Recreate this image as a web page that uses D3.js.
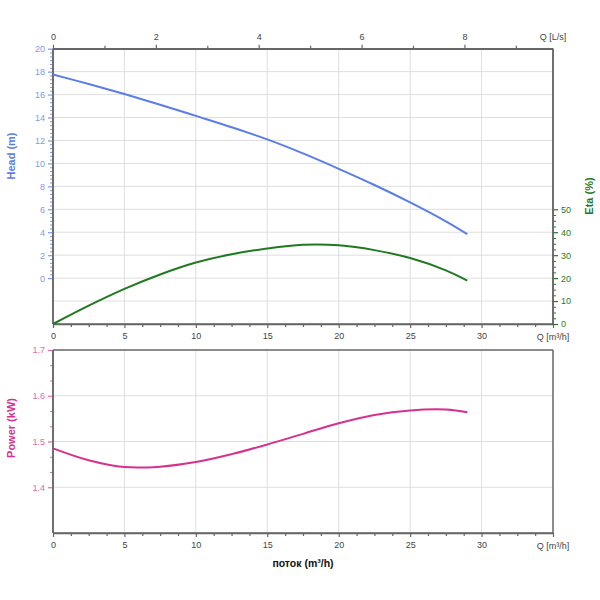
<!DOCTYPE html>
<html><head><meta charset="utf-8">
<script src="https://cdn.jsdelivr.net/npm/d3@7"></script>
<style>body{margin:0;background:#fff}text{font-family:"Liberation Sans",Arial,sans-serif}</style>
</head><body><svg id="c" width="600" height="600"></svg>
<script>
// ---- data ----
const qPts = [0, 2.5, 5, 7.5, 10, 12.5, 15, 17.5, 20, 22.5, 25, 27.5, 29];
const headVals = [17.75, 16.92, 16.05, 15.12, 14.14, 13.15, 12.09, 10.87, 9.53, 8.12, 6.6, 4.95, 3.83];
const etaVals = [0, 8.0, 15.3, 21.6, 26.8, 30.4, 32.9, 34.5, 34.3, 32.2, 28.75, 23.4, 18.95];
const powerVals = [1.485, 1.459, 1.444, 1.445, 1.455, 1.4724, 1.4935, 1.5167, 1.5398, 1.558, 1.568, 1.5698, 1.5641];
const qTicks = [0, 5, 10, 15, 20, 25, 30];
const lsTicks = [0, 2, 4, 6, 8];
const headTicks = [0, 2, 4, 6, 8, 10, 12, 14, 16, 18, 20];
const etaTicks = [0, 10, 20, 30, 40, 50];
const powerTicks = [1.4, 1.5, 1.6, 1.7];

const svg = d3.select("#c");
const L = 53, R = 553;
const T1 = 48.7, B1 = 324, T2 = 350, B2 = 533;
const AX = "#666", GRID = "#dedede", TXT = "#444";
const cHead = "#5a7ee6", cHeadT = "#7f97ee", cEta = "#1f7a1f", cPow = "#d6318f", cPowT = "#e46aa9";

const x = d3.scaleLinear().domain([0, 35]).range([L, R]);
const xLs = d3.scaleLinear().domain([0, 35 / 3.6]).range([L, R]);
const yHead = d3.scaleLinear().domain([-4, 20]).range([B1, T1]);
const yEta = d3.scaleLinear().domain([0, 120]).range([B1, T1]);
const yPow = d3.scaleLinear().domain([1.3, 1.7]).range([B2, T2]);

function grid(yScale, yVals, top, bot) {
  const g = svg.append("g");
  qTicks.filter(d => d > 0).forEach(d => g.append("line").attr("x1", x(d)).attr("x2", x(d)).attr("y1", top).attr("y2", bot).attr("stroke", GRID));
  yVals.forEach(v => g.append("line").attr("x1", L).attr("x2", R).attr("y1", yScale(v)).attr("y2", yScale(v)).attr("stroke", GRID));
}
grid(yHead, [-2, 0, 2, 4, 6, 8, 10, 12, 14, 16, 18], T1, B1);
grid(yPow, [1.4, 1.5, 1.6], T2, B2);

function minors(major, n) {
  const out = [];
  for (let i = 0; i < major.length - 1; i++) {
    const s = (major[i + 1] - major[i]) / n;
    for (let k = 1; k < n; k++) out.push(major[i] + k * s);
  }
  return out;
}

function styleAxis(g, col) {
  g.select(".domain").attr("stroke", AX).attr("stroke-width", 1.5);
  g.selectAll(".tick line").attr("stroke", AX).attr("stroke-width", 1.2);
  g.selectAll(".tick text").attr("fill", col).attr("font-size", 9);
}

// bottom x axes
[[B1], [B2]].forEach(([yb]) => {
  const qMin = [];
  for (let v = 1.25; v < 35; v += 1.25) if (Math.abs(v / 5 - Math.round(v / 5)) > 1e-6) qMin.push(v);
  svg.append("g").attr("transform", `translate(0,${yb})`)
    .call(d3.axisBottom(x).tickValues(qMin).tickSize(3).tickFormat("").tickSizeOuter(0))
    .call(g => { g.select(".domain").remove(); g.selectAll("line").attr("stroke", AX).attr("stroke-width", 1.2); });
  const g = svg.append("g").attr("transform", `translate(0,${yb})`)
    .call(d3.axisBottom(x).tickValues(qTicks.concat([35])).tickSize(4).tickPadding(5).tickSizeOuter(0).tickFormat(d => d === 35 ? "" : d));
  styleAxis(g, TXT);
  svg.append("text").attr("x", R).attr("y", yb + 16).attr("text-anchor", "middle").attr("font-size", 9).attr("fill", TXT).text("Q [m³/h]");
});

// top L/s axis
svg.append("g").attr("transform", `translate(0,${T1})`)
  .call(d3.axisTop(xLs).tickValues([1, 3, 5, 7, 9]).tickSize(3).tickFormat("").tickSizeOuter(0))
  .call(g => { g.select(".domain").remove(); g.selectAll("line").attr("stroke", AX).attr("stroke-width", 1.2); });
styleAxis(svg.append("g").attr("transform", `translate(0,${T1})`)
  .call(d3.axisTop(xLs).tickValues(lsTicks).tickSize(4).tickPadding(5).tickSizeOuter(0)), TXT);
svg.append("text").attr("x", R).attr("y", 39.5).attr("text-anchor", "middle").attr("font-size", 9).attr("fill", TXT).text("Q [L/s]");

// head axis
svg.append("g").attr("transform", `translate(${L},0)`)
  .call(d3.axisLeft(yHead).tickValues(minors(headTicks, 6)).tickSize(3).tickFormat("").tickSizeOuter(0))
  .call(g => { g.select(".domain").remove(); g.selectAll("line").attr("stroke", cHeadT).attr("stroke-width", 1); });
const gH = svg.append("g").attr("transform", `translate(${L},0)`)
  .call(d3.axisLeft(yHead).tickValues(headTicks).tickSize(5).tickPadding(3).tickSizeOuter(0));
styleAxis(gH, cHeadT);
gH.selectAll(".tick line").attr("stroke", cHeadT);
gH.select(".domain").attr("d", `M0,${T1}V${B1}`);

// eta axis
svg.append("g").attr("transform", `translate(${R},0)`)
  .call(d3.axisRight(yEta).tickValues(minors(etaTicks, 4)).tickSize(3).tickFormat("").tickSizeOuter(0))
  .call(g => { g.select(".domain").remove(); g.selectAll("line").attr("stroke", cEta).attr("stroke-width", 1); });
const gE = svg.append("g").attr("transform", `translate(${R},0)`)
  .call(d3.axisRight(yEta).tickValues(etaTicks).tickSize(5).tickPadding(3).tickSizeOuter(0));
styleAxis(gE, cEta);
gE.selectAll(".tick line").attr("stroke", cEta);
gE.select(".domain").attr("d", `M0,${T1}V${B1}`);

// power axis
svg.append("g").attr("transform", `translate(${L},0)`)
  .call(d3.axisLeft(yPow).tickValues(minors(powerTicks, 3)).tickSize(3).tickFormat("").tickSizeOuter(0))
  .call(g => { g.select(".domain").remove(); g.selectAll("line").attr("stroke", cPowT).attr("stroke-width", 1); });
const gP = svg.append("g").attr("transform", `translate(${L},0)`)
  .call(d3.axisLeft(yPow).tickValues(powerTicks).tickSize(5).tickPadding(3).tickSizeOuter(0).tickFormat(d3.format(".1f")));
styleAxis(gP, cPowT);
gP.selectAll(".tick line").attr("stroke", cPowT);
gP.select(".domain").attr("d", `M0,${T2}V${B2}`);

// frames
[[L, R, T1, T1], [L, R, T2, T2], [R, R, T2, B2], [L, R, B1, B1], [L, R, B2, B2], [L, L, T1, B1], [R, R, T1, B1], [L, L, T2, B2]]
  .forEach(([x1, x2, y1, y2]) => svg.append("line").attr("x1", x1).attr("x2", x2).attr("y1", y1).attr("y2", y2).attr("stroke", AX).attr("stroke-width", 1.5));

// curves
function curve(vals, ys, col) {
  const line = d3.line().x((d, i) => x(qPts[i])).y(d => ys(d)).curve(d3.curveCatmullRom.alpha(0.5));
  svg.append("path").attr("d", line(vals)).attr("fill", "none").attr("stroke", col).attr("stroke-width", 2);
}
curve(headVals, yHead, cHead);
curve(etaVals, yEta, cEta);
curve(powerVals, yPow, cPow);

// axis titles
svg.append("text").attr("transform", "translate(15,156) rotate(-90)").attr("text-anchor", "middle")
  .attr("font-size", 11).attr("font-weight", "bold").attr("fill", cHead).text("Head (m)");
svg.append("text").attr("transform", "translate(593,196) rotate(-90)").attr("text-anchor", "middle")
  .attr("font-size", 11).attr("font-weight", "bold").attr("fill", cEta).text("Eta (%)");
svg.append("text").attr("transform", "translate(15,428) rotate(-90)").attr("text-anchor", "middle")
  .attr("font-size", 11).attr("font-weight", "bold").attr("fill", cPow).text("Power (kW)");
svg.append("text").attr("x", 303).attr("y", 567).attr("text-anchor", "middle")
  .attr("font-size", 10.5).attr("font-weight", "bold").attr("fill", "#111").text("поток (m³/h)");
</script></body></html>
